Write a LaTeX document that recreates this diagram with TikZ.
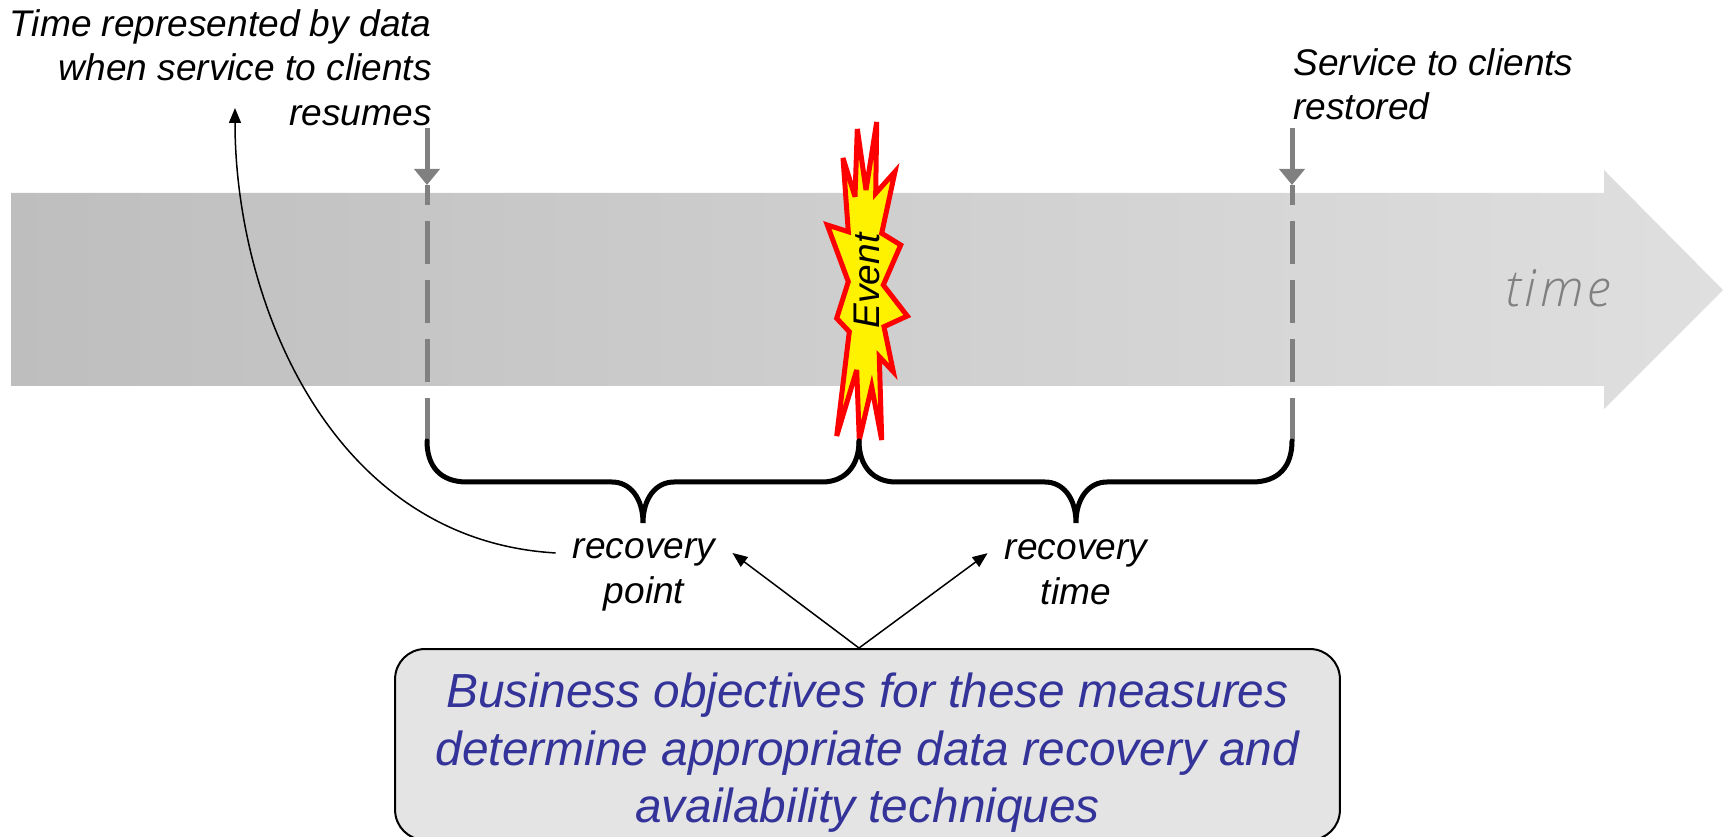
\documentclass[tikz,border=0pt]{standalone}
\usepackage{fontspec}
\setmainfont{Liberation Sans}
\newfontfamily\timefont[LetterSpace=8]{Open Sans Light}
\usetikzlibrary{arrows.meta}
\definecolor{bandleft}{HTML}{BEBEBE}
\definecolor{bandright}{HTML}{DFDFDF}
\definecolor{markgray}{HTML}{808080}
\definecolor{boxfill}{HTML}{E4E4E4}
\definecolor{boxtext}{HTML}{333399}

\begin{document}
\begin{tikzpicture}
	[x = 0.02cm, y = -0.02cm, >= {Triangle[length=0.3cm,width=0.24cm]},
	note/.style = {font = \fontsize{21.1}{25.4}\selectfont\itshape, inner sep = 0pt},
	measure/.style = {note, align = center, inner xsep = 0.34cm, inner ysep = 0.1cm},
	thin arrow/.style = {->, black, line width = 0.03cm},
	brace/.style = {black, line width = 0.1cm, line cap = round},
	marker/.style = {markgray, line width = 0.1cm}]
\useasboundingbox (0,0) rectangle (1724,837);

% time band
\path[left color = bandleft, right color = bandright]
	(11,193) -- (1604,193) -- (1604,170) -- (1723,290) -- (1604,409) -- (1604,386) -- (11,386) -- cycle;
\node[font = \timefont\fontsize{29}{33}\selectfont\itshape, text = markgray] (timelabel) at (1558,288) {time};

% markers on the band
\foreach \name/\x in {rp/427,rt/1292} {
	\coordinate (\name top) at (\x,128);
	\coordinate (\name band) at (\x,185);
	\coordinate (\name foot) at (\x,441);
	\draw[marker, -{Triangle[length=0.32cm,width=0.5cm]}] (\name top) -- (\name band);
	\draw[marker, dash pattern = on 0.86cm off 0.32cm] (\name foot) -- (\name band);
}

% event
\coordinate (evfoot) at (859,441);
\draw[fill = yellow, draw = red, line width = 0.1cm, miter limit = 6]
	(876.7,122) -- (875.7,193.3) -- (895,171.7) -- (881.7,233.3) -- (900.7,245) -- (883.3,285)
	-- (907.3,316) -- (884,326.7) -- (893.3,371.7) -- (879.3,356.7) -- (881.7,440) -- (871.7,386.7)
	-- (859.3,440) -- (856.7,370) -- (836.7,436) -- (849.3,331.7) -- (836.7,318.3) -- (848.3,281.7)
	-- (827.3,225) -- (848.3,231.7) -- (843,158) -- (855,196.7) -- (857.3,129) -- (866,190) -- cycle;
\node[note, rotate = 90] (event) at (867,281) {Event};

% braces
\draw[brace] (rpfoot) .. controls (427,466) and (440,482) .. (467,482) -- (612,482)
	.. controls (630,482) and (643,498) .. (643,523)
	.. controls (643,498) and (656,482) .. (674,482) -- (822,482)
	.. controls (845,482) and (859,466) .. (evfoot);
\draw[brace] (evfoot) .. controls (859,466) and (873,482) .. (896,482) -- (1045,482)
	.. controls (1063,482) and (1076,498) .. (1076,523)
	.. controls (1076,498) and (1089,482) .. (1107,482) -- (1252,482)
	.. controls (1279,482) and (1292,466) .. (rtfoot);

% labels
\node[note, align = right, anchor = north east] (represented) at (432,9)
	{Time represented by data\\when service to clients\\resumes};
\node[note, align = left, anchor = north west] (restored) at (1293,48)
	{Service to clients\\restored};
\node[measure] (rp) at (644,575) {recovery\\point};
\node[measure] (rt) at (1076,572) {recovery\\time};
\node[draw = black, fill = boxfill, line width = 0.04cm, rounded corners = 0.6cm,
	minimum width = 18.9cm, minimum height = 3.82cm, inner sep = 0pt, align = center,
	text = boxtext, font = \fontsize{27.2}{32.9}\selectfont\itshape] (objectives) at (867.5,744.5)
	{\rule{0pt}{29pt}Business objectives for these measures\\determine appropriate data recovery and\\availability techniques};

% connectors
\coordinate (resumes) at (235,108);
\draw[thin arrow] (rp.166) .. controls (330,540) and (235,300) .. (resumes);
\draw[thin arrow] (objectives.north -| evfoot) -- (rp.14);
\draw[thin arrow] (objectives.north -| evfoot) -- (rt.168);
\end{tikzpicture}
\end{document}
